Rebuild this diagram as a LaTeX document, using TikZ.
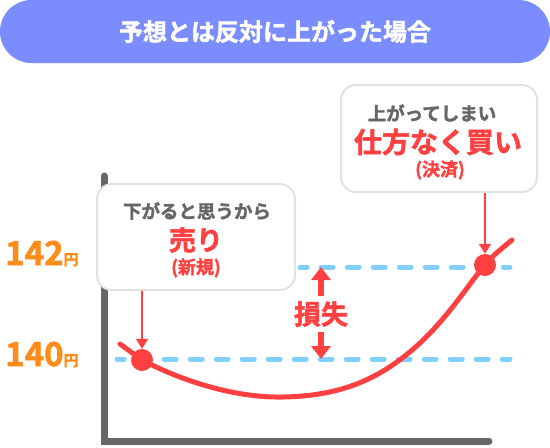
\documentclass[tikz,border=0pt]{standalone}
\usepackage{fontspec}
\setmainfont{Noto Sans CJK JP}[BoldFont={Noto Sans CJK JP Bold}, BoldFeatures={FakeBold=1.8}]
\usetikzlibrary{arrows.meta}
\definecolor{titlebg}{HTML}{7B8CFF}
\definecolor{txtgray}{HTML}{666666}
\definecolor{axisgray}{HTML}{666666}
\definecolor{lossred}{HTML}{FF4040}
\definecolor{priceorange}{HTML}{FF8C1A}
\definecolor{dashblue}{HTML}{80CFFF}
\definecolor{boxborder}{HTML}{E2E2E2}
\newcommand{\fsz}[1]{\fontsize{#1}{#1}\selectfont\bfseries}
\begin{document}
\begin{tikzpicture}[x=1pt,y=-1pt,
  pill/.style={fill=titlebg, rounded corners=31.5pt, minimum width=550pt, minimum height=63pt, inner sep=0pt, text=white, font=\fsz{24}},
  callout/.style={draw=boxborder, line width=2pt, fill=white, rounded corners=15pt, inner sep=0pt},
  graytxt/.style={text=txtgray, inner sep=0pt, font=\fsz{18.5}},
  redbig/.style={text=lossred, inner sep=0pt, font=\fsz{27}},
  redsmall/.style={text=lossred, inner sep=0pt, font=\fsz{18}},
  price/.style={text=priceorange, inner sep=0pt, anchor=base west},
  axisline/.style={draw=axisgray, line width=7pt, line cap=round},
  level/.style={draw=dashblue, line width=5pt, line cap=round, dash pattern=on 12pt off 14pt, dash phase=4.8pt},
  dot/.style={circle, fill=lossred, minimum size=22pt, inner sep=0pt},
  pointer/.style={draw=lossred, line width=2pt, -{Triangle[length=10pt,width=12pt]}},
  bigarrow/.style={draw=lossred, line width=6pt, -{Triangle[length=13pt,width=19pt]}},
  pricecurve/.style={draw=lossred, line width=5pt, line cap=round},
]
\useasboundingbox (0,0) rectangle (550,448);

% title
\node[pill] (title) at (275,31.5) {予想とは反対に上がった場合};

% axes
\coordinate (ytop) at (104,176);
\coordinate (orig) at (104,441);
\coordinate (xend) at (489,441);
\draw[axisline] (ytop) -- (orig) -- (xend);

% price levels
\coordinate (l140a) at (117,359);
\coordinate (l140b) at (510,359);
\coordinate (l142a) at (300,267);
\coordinate (l142b) at (510,267);
\draw[level] (l140a) -- (l140b);
\draw[level] (l142a) -- (l142b);

\node[price] (p142) at (5,265) {\fsz{33}142\fsz{15}円};
\node[price] (p140) at (5,366) {\fsz{33}140\fsz{15}円};

% price curve
\coordinate (c0) at (120,344);
\coordinate (c1) at (142,360);
\coordinate (c2) at (283,397);
\coordinate (c3) at (420,343);
\coordinate (c4) at (485,265);
\coordinate (c5) at (512,240);
\draw[pricecurve] (c0) -- (c1)
  .. controls (182,381) and (235,398) .. (c2)
  .. controls (340,396) and (380,380) .. (c3)
  .. controls (450,315) and (470,282) .. (c4)
  .. controls (495,254) .. (c5);

\node[dot] (sell) at (c1) {};
\node[dot] (buy) at (c4) {};

% callout boxes
\node[callout, minimum width=198pt, minimum height=106pt] (box1) at (196,237) {};
\node[graytxt] (b1l1) at (197,211) {下がると思うから};
\node[redbig] (b1l2) at (196,240) {売り};
\node[redsmall] (b1l3) at (196,268) {(新規)};

\node[callout, minimum width=196pt, minimum height=107pt] (box2) at (439,138.5) {};
\node[graytxt] (b2l1) at (432,113) {上がってしまい};
\node[redbig, font=\fsz{28}] (b2l2) at (438,142) {仕方なく買い};
\node[redsmall] (b2l3) at (440,170) {(決済)};

\draw[pointer] (box1.south -| sell) -- (sell.north);
\draw[pointer] (box2.south -| buy) -- (buy.north);

% loss
\node[text=lossred, inner sep=0pt, font=\fsz{27}] (loss) at (321,314) {損失};
\coordinate (lossTop) at (321,267);
\coordinate (lossBot) at (321,359);
\draw[bigarrow] (loss.north |- 0,296) -- (lossTop);
\draw[bigarrow] (loss.south |- 0,332) -- (lossBot);
\end{tikzpicture}
\end{document}
